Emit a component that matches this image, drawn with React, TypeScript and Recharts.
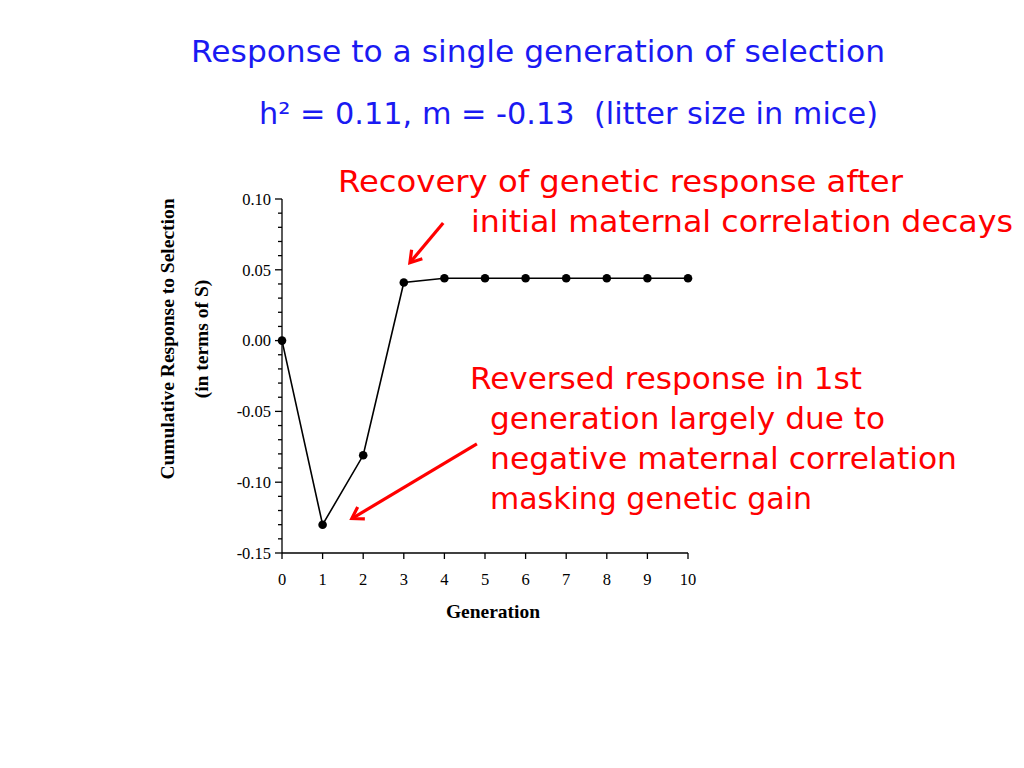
import React from 'react';
import {
  LineChart,
  Line,
  XAxis,
  YAxis,
  ReferenceLine
} from 'recharts';

// generations and cumulative response (in units of S)
const generations = [0, 1, 2, 3, 4, 5, 6, 7, 8, 9, 10];
const responses = [0.0, -0.13, -0.081, 0.041, 0.044, 0.044, 0.044, 0.044, 0.044, 0.044, 0.044];

const xTicks = [0, 1, 2, 3, 4, 5, 6, 7, 8, 9, 10];
const yTicks = [
  -0.15, -0.14, -0.13, -0.12, -0.11, -0.1, -0.09, -0.08, -0.07, -0.06, -0.05, -0.04, -0.03,
  -0.02, -0.01, 0, 0.01, 0.02, 0.03, 0.04, 0.05, 0.06, 0.07, 0.08, 0.09, 0.1
];

// annotation arrows in data units: [tail, head]
const recoveryArrow = [{ x: 3.97, y: 0.083 }, { x: 3.15, y: 0.055 }];
const reversedArrow = [{ x: 4.8, y: -0.073 }, { x: 1.72, y: -0.1257 }];

const titleLines = [
  'Response to a single generation of selection',
  'h\u00b2 = 0.11, m = -0.13  (litter size in mice)'
];
const recoveryLines = ['Recovery of genetic response after', 'initial maternal correlation decays'];
const reversedLines = [
  'Reversed response in 1st',
  'generation largely due to',
  'negative maternal correlation',
  'masking genetic gain'
];

const data = generations.map((g, i) => ({ gen: g, resp: responses[i] }));

const SERIF = '"Liberation Serif", "Times New Roman", serif';
const HAND = '"DejaVu Sans", "Noto Sans", sans-serif';
const BLUE = '#1a1af2';
const RED = '#ff0000';

const YTick = ({ x, y, payload }: any) => {
  const v = payload.value;
  const major = Math.round(v * 100) % 5 === 0;
  return (
    <g>
      <line x1={x} x2={x - (major ? 7 : 4)} y1={y} y2={y} stroke="#000" strokeWidth={1.3} />
      {major && (
        <text x={x - 11} y={y} dy="0.35em" textAnchor="end" fontFamily={SERIF} fontSize={16.5} fill="#000">
          {v.toFixed(2)}
        </text>
      )}
    </g>
  );
};

const Arrow = (props: any) => {
  const { x1, y1, x2, y2 } = props;
  const ang = Math.atan2(y2 - y1, x2 - x1);
  const len = 11;
  const half = 7;
  const bx = x2 - len * Math.cos(ang);
  const by = y2 - len * Math.sin(ang);
  const px = -Math.sin(ang) * half;
  const py = Math.cos(ang) * half;
  return (
    <g>
      <line x1={x1} y1={y1} x2={x2 - 2 * Math.cos(ang)} y2={y2 - 2 * Math.sin(ang)} stroke={RED} strokeWidth={3.2} />
      <polyline
        points={`${bx + px},${by + py} ${x2},${y2} ${bx - px},${by - py}`}
        fill="none"
        stroke={RED}
        strokeWidth={3.2}
        strokeLinejoin="miter"
      />
    </g>
  );
};

const HandText = ({ x, y, w, color, children }: any) => (
  <text
    x={x}
    y={y}
    fontFamily={HAND}
    fontSize={30}
    fill={color}
    textLength={w}
    lengthAdjust="spacingAndGlyphs"
    style={{ whiteSpace: 'pre' }}
  >
    {children}
  </text>
);

const App: React.FC = () => {
  return (
    <div style={{ position: 'absolute', left: 0, top: 0, width: 1024, height: 768, background: '#fff' }}>
      <LineChart
        width={1024}
        height={768}
        data={data}
        margin={{ top: 199, right: 336, bottom: 175, left: 202 }}
      >
        <XAxis
          dataKey="gen"
          type="number"
          domain={[0, 10]}
          ticks={xTicks}
          interval={0}
          height={40}
          stroke="#000"
          strokeWidth={1.3}
          tickSize={6}
          tickMargin={14}
          tick={{ fill: '#000', fontFamily: SERIF, fontSize: 16.5 }}
        />
        <YAxis
          type="number"
          domain={[-0.15, 0.1]}
          ticks={yTicks}
          interval={0}
          width={80}
          stroke="#000"
          strokeWidth={1.3}
          tickLine={false}
          tickSize={0}
          tickMargin={0}
          tick={<YTick />}
          allowDataOverflow
        />
        <ReferenceLine segment={recoveryArrow} ifOverflow="visible" shape={<Arrow />} />
        <ReferenceLine segment={reversedArrow} ifOverflow="visible" shape={<Arrow />} />
        <Line
          type="linear"
          dataKey="resp"
          stroke="#000"
          strokeWidth={1.6}
          dot={{ r: 4.3, fill: '#000', stroke: '#000', strokeWidth: 0 }}
          activeDot={false}
          isAnimationActive={false}
        />
      </LineChart>

      <svg
        width={1024}
        height={768}
        style={{ position: 'absolute', left: 0, top: 0, pointerEvents: 'none' }}
      >
        {/* titles */}
        <HandText x={191} y={62} w={694} color={BLUE}>{titleLines[0]}</HandText>
        <HandText x={259} y={124} w={619} color={BLUE}>{titleLines[1]}</HandText>

        {/* red annotations */}
        <HandText x={338} y={192} w={565} color={RED}>{recoveryLines[0]}</HandText>
        <HandText x={471} y={232} w={542} color={RED}>{recoveryLines[1]}</HandText>
        <HandText x={470} y={389} w={392} color={RED}>{reversedLines[0]}</HandText>
        <HandText x={490} y={429} w={395} color={RED}>{reversedLines[1]}</HandText>
        <HandText x={490} y={469} w={467} color={RED}>{reversedLines[2]}</HandText>
        <HandText x={490} y={509} w={322} color={RED}>{reversedLines[3]}</HandText>

        {/* axis titles */}
        <text
          x={167}
          y={339}
          transform="rotate(-90, 167, 339)"
          textAnchor="middle"
          dominantBaseline="central"
          fontFamily={SERIF}
          fontWeight="bold"
          fontSize={19.5}
          fill="#000"
        >
          Cumulative Response to Selection
        </text>
        <text
          x={201}
          y={339}
          transform="rotate(-90, 201, 339)"
          textAnchor="middle"
          dominantBaseline="central"
          fontFamily={SERIF}
          fontWeight="bold"
          fontSize={19.5}
          fill="#000"
        >
          (in terms of S)
        </text>
        <text
          x={493}
          y={611}
          textAnchor="middle"
          dominantBaseline="central"
          fontFamily={SERIF}
          fontWeight="bold"
          fontSize={19.5}
          fill="#000"
        >
          Generation
        </text>
      </svg>
    </div>
  );
};

export default App;
